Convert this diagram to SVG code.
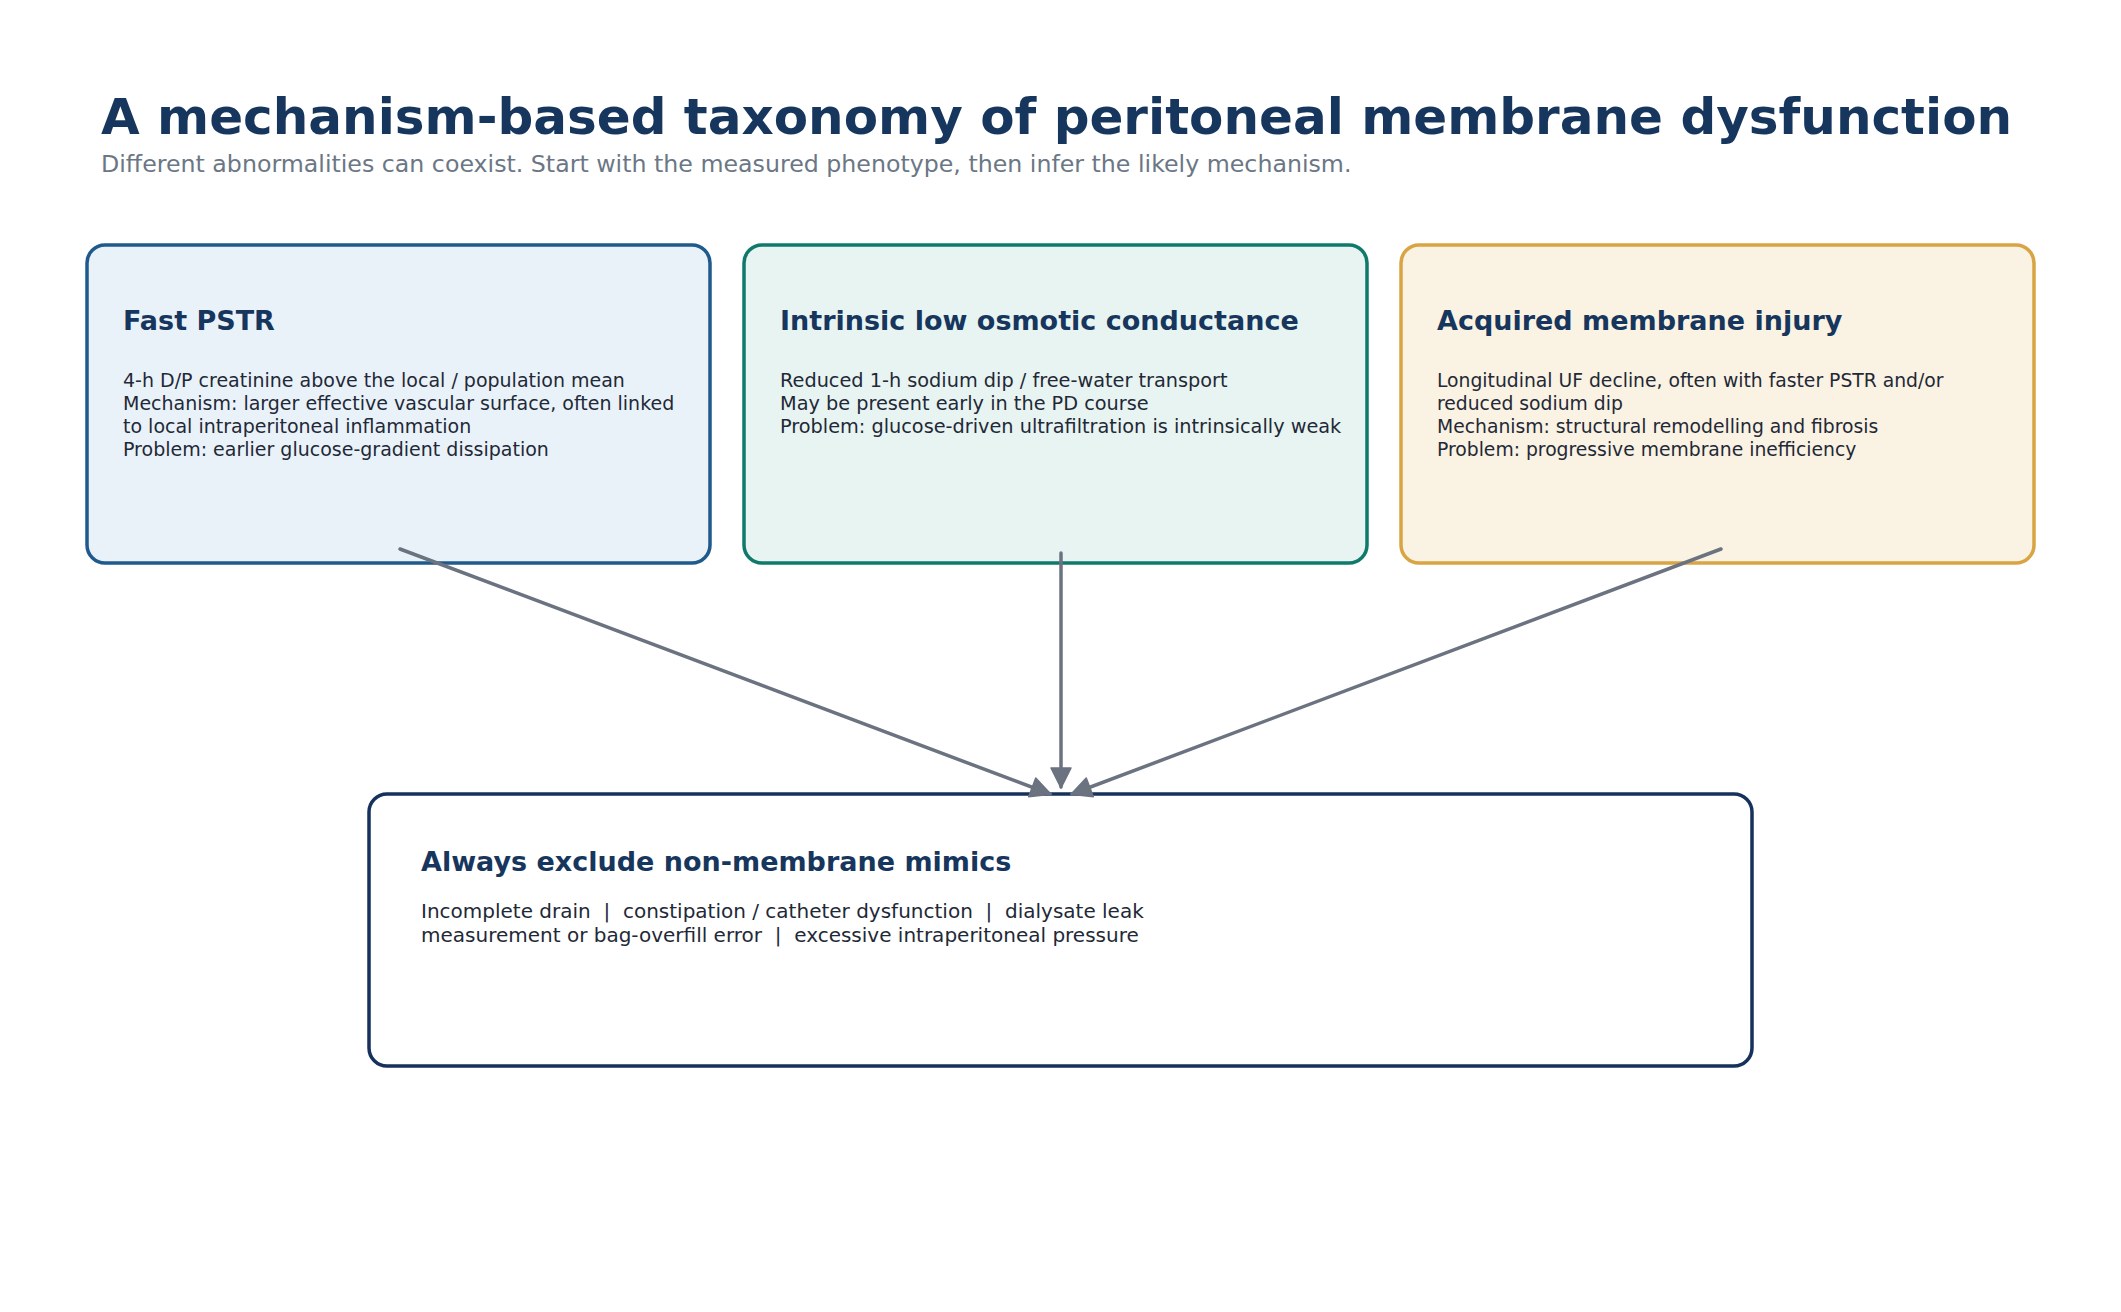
<svg xmlns="http://www.w3.org/2000/svg" width="2121" height="1312" viewBox="0 0 2121 1312">
<defs>
<style>
text { font-family: "DejaVu Sans", "Noto Sans", sans-serif; }
.title { font-size: 50px; font-weight: bold; fill: #17365d; }
.sub { font-size: 23.7px; fill: #6b7785; }
.ntitle { font-size: 27px; font-weight: bold; fill: #17365d; }
.body { font-size: 19px; fill: #1f2937; white-space: pre; }
.b2 { font-size: 19.3px; }
.b3 { font-size: 18.75px; }
.body2 { font-size: 20px; fill: #1f2937; white-space: pre; }
.box { stroke-width: 3.5; }
.conn { stroke: #6b7280; stroke-width: 3.5; fill: none; stroke-linecap: round; }
</style>
<marker id="arr" markerUnits="userSpaceOnUse" markerWidth="24" markerHeight="24" viewBox="0 0 24 24" refX="21" refY="12" orient="auto">
<path d="M2,2 L22,12 L2,22 Z" fill="#6b7280" stroke="#6b7280" stroke-width="1.5" stroke-linejoin="round"/>
</marker>
</defs>
<rect width="2121" height="1312" fill="#ffffff"/>
<g id="header">
<text class="title" x="101" y="134">A mechanism-based taxonomy of peritoneal membrane dysfunction</text>
<text class="sub" x="101" y="172">Different abnormalities can coexist. Start with the measured phenotype, then infer the likely mechanism.</text>
</g>
<g id="node-fast-pstr">
<rect class="box" x="87" y="245" width="623" height="318" rx="18" fill="#eaf2f9" stroke="#1f5a8c"/>
<text class="ntitle" x="123" y="330">Fast PSTR</text>
<text class="body" x="123" y="387">4-h D/P creatinine above the local / population mean</text>
<text class="body" x="123" y="410">Mechanism: larger effective vascular surface, often linked</text>
<text class="body" x="123" y="433">to local intraperitoneal inflammation</text>
<text class="body" x="123" y="456">Problem: earlier glucose-gradient dissipation</text>
</g>
<g id="node-low-osmotic">
<rect class="box" x="744" y="245" width="623" height="318" rx="18" fill="#e8f4f1" stroke="#0f7a6c"/>
<text class="ntitle" x="780" y="330">Intrinsic low osmotic conductance</text>
<text class="body b2" x="780" y="387">Reduced 1-h sodium dip / free-water transport</text>
<text class="body b2" x="780" y="410">May be present early in the PD course</text>
<text class="body b2" x="780" y="433">Problem: glucose-driven ultrafiltration is intrinsically weak</text>
</g>
<g id="node-acquired-injury">
<rect class="box" x="1401" y="245" width="633" height="318" rx="18" fill="#faf2e3" stroke="#d9a443"/>
<text class="ntitle" x="1437" y="330">Acquired membrane injury</text>
<text class="body b3" x="1437" y="387">Longitudinal UF decline, often with faster PSTR and/or</text>
<text class="body b3" x="1437" y="410">reduced sodium dip</text>
<text class="body b3" x="1437" y="433">Mechanism: structural remodelling and fibrosis</text>
<text class="body b3" x="1437" y="456">Problem: progressive membrane inefficiency</text>
</g>
<g id="node-mimics">
<rect class="box" x="369" y="794" width="1383" height="272" rx="18" fill="#ffffff" stroke="#16325c"/>
<text class="ntitle" x="421" y="871">Always exclude non-membrane mimics</text>
<text class="body2" x="421" y="918" xml:space="preserve">Incomplete drain  |  constipation / catheter dysfunction  |  dialysate leak</text>
<text class="body2" x="421" y="941.5" xml:space="preserve">measurement or bag-overfill error  |  excessive intraperitoneal pressure</text>
</g>
<g id="connectors">
<line class="conn" x1="400" y1="549" x2="1050" y2="794" marker-end="url(#arr)"/>
<line class="conn" x1="1061" y1="553" x2="1061" y2="787" marker-end="url(#arr)"/>
<line class="conn" x1="1721" y1="549" x2="1072" y2="794" marker-end="url(#arr)"/>
</g>
</svg>
